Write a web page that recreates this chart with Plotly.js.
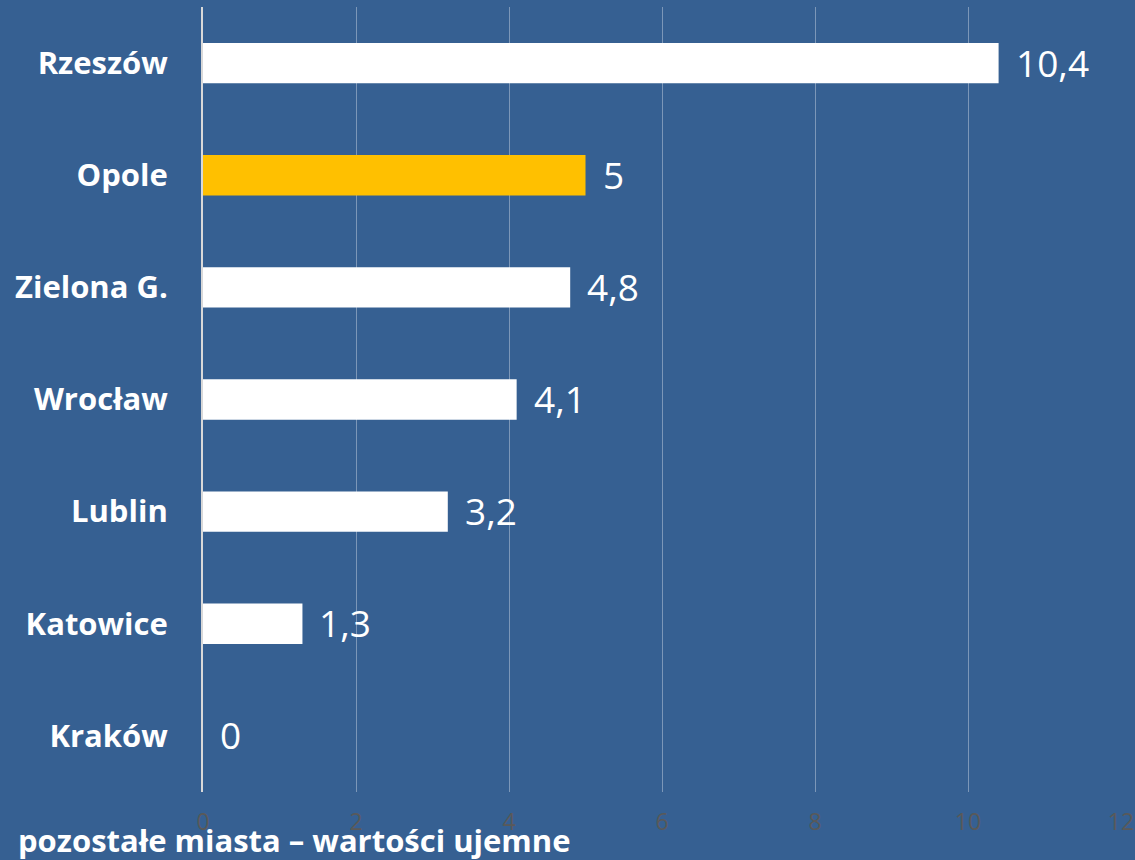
<!DOCTYPE html>
<html>
<head>
<meta charset="utf-8">
<script src="https://cdn.plot.ly/plotly-3.0.1.min.js"></script>
<style>html,body{margin:0;padding:0;background:#366092;}#chart{width:1135px;height:860px;}</style>
</head>
<body>
<div id="chart"></div>
<script>
const categories = ["Rzeszów", "Opole", "Zielona G.", "Wrocław", "Lublin", "Katowice", "Kraków"];
const values = [10.4, 5, 4.8, 4.1, 3.2, 1.3, 0];
const valueLabels = ["10,4", "5", "4,8", "4,1", "3,2", "1,3", "0"];
const barColors = ["#FFFFFF", "#FFC000", "#FFFFFF", "#FFFFFF", "#FFFFFF", "#FFFFFF", "#FFFFFF"];
const tickValues = [0, 2, 4, 6, 8, 10, 12];
const tickLabels = ["0", "2", "4", "6", "8", "10", "12"];
const footnote = "pozostałe miasta – wartości ujemne";

const FONT = "Open Sans, Lato, DejaVu Sans, sans-serif";

const trace = {
  type: "bar",
  orientation: "h",
  y: categories,
  x: values,
  marker: {color: barColors, line: {width: 0}},
  hoverinfo: "none"
};

const annotations = categories.map((c, i) => ({
  x: values[i], y: c, xref: "x", yref: "y",
  text: valueLabels[i], showarrow: false,
  xanchor: "left", yanchor: "middle", xshift: 15, yshift: 1,
  font: {family: FONT, size: 37, color: "#FFFFFF"}
}));
annotations.push({
  xref: "paper", yref: "paper",
  x: (16 - 203) / 918, y: (792 - 840) / 785,
  xanchor: "left", yanchor: "middle",
  text: "<b>" + footnote + "</b>", showarrow: false,
  font: {family: FONT, size: 31, color: "#FFFFFF"}
});

const layout = {
  width: 1135, height: 860,
  paper_bgcolor: "#366092",
  plot_bgcolor: "#366092",
  margin: {l: 203, r: 14, t: 7, b: 68},
  bargap: 0.64,
  showlegend: false,
  xaxis: {
    range: [0, 12], tickvals: tickValues, ticktext: tickLabels,
    showgrid: true, gridcolor: "rgba(255,255,255,0.35)", gridwidth: 1,
    zeroline: false, showline: false, ticks: "",
    ticklabelstandoff: 14,
    tickfont: {family: FONT, size: 23, color: "#595959"},
    fixedrange: true
  },
  yaxis: {
    autorange: "reversed",
    showgrid: false, zeroline: false,
    showline: true, linecolor: "#D9D9D9", linewidth: 2,
    ticks: "", ticklabelstandoff: 27,
    tickfont: {family: FONT, size: 31, color: "#FFFFFF", weight: "bold"},
    fixedrange: true
  },
  annotations: annotations
};

Plotly.newPlot("chart", [trace], layout, {displayModeBar: false, staticPlot: true});
</script>
</body>
</html>
